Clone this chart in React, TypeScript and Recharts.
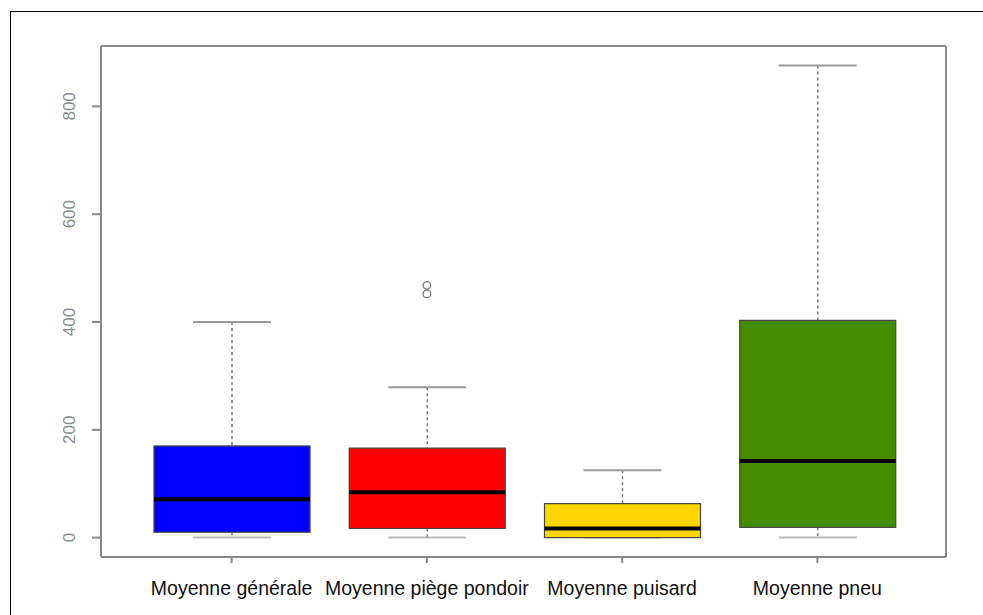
import React from 'react';
import { ComposedChart, Bar, Scatter, XAxis, YAxis, CartesianGrid } from 'recharts';

const categories = ['Moyenne générale', 'Moyenne piège pondoir', 'Moyenne puisard', 'Moyenne pneu'];
const whiskerLow = [0, 0, 0, 0];
const q1 = [10, 17, 0, 19];
const medians = [71, 84, 17, 142];
const q3 = [170, 166, 63, 403];
const whiskerHigh = [400, 279, 125, 876];
const boxColors = ['#0000FF', '#FF0000', '#FFD700', '#458B00'];
const outlierValues = [[], [468, 452], [], []];
const yTicks = [0, 200, 400, 600, 800];

const data = categories.map((name, i) => ({
  name,
  low: whiskerLow[i],
  q1: q1[i],
  median: medians[i],
  q3: q3[i],
  high: whiskerHigh[i],
  color: boxColors[i],
}));

const outliers = categories.flatMap((name, i) => outlierValues[i].map((value) => ({ name, value })));

const BoxShape = (props: any) => {
  const { x, y, width, height, payload } = props;
  const top = Math.min(y, y + height);
  const bottom = Math.max(y, y + height);
  const span = payload.high - payload.low;
  // map a value onto the pixel range the bar got for [low, high]
  const py = (v: number) => top + ((payload.high - v) / span) * (bottom - top);
  const cx = x + width / 2;
  const capHalf = width / 4;
  return (
    <g>
      <line x1={cx} x2={cx} y1={py(payload.high)} y2={py(payload.q3)} stroke="#777" strokeWidth={1.5} strokeDasharray="3 3" />
      <line x1={cx} x2={cx} y1={py(payload.q1)} y2={py(payload.low)} stroke="#777" strokeWidth={1.5} strokeDasharray="3 3" />
      <line x1={cx - capHalf} x2={cx + capHalf} y1={py(payload.high)} y2={py(payload.high)} stroke="#999" strokeWidth={2} />
      <line x1={cx - capHalf} x2={cx + capHalf} y1={py(payload.low)} y2={py(payload.low)} stroke="#bbb" strokeWidth={2} />
      <rect
        x={x}
        y={py(payload.q3)}
        width={width}
        height={py(payload.q1) - py(payload.q3)}
        fill={payload.color}
        stroke="#444"
        strokeWidth={1.2}
      />
      <line x1={x} x2={x + width} y1={py(payload.median)} y2={py(payload.median)} stroke="#000" strokeWidth={4} />
    </g>
  );
};

const OutlierShape = (props: any) => {
  const { cx, cy } = props;
  return <circle cx={cx} cy={cy} r={3.8} fill="none" stroke="#777" strokeWidth={1.3} />;
};

const YTick = (props: any) => {
  const { x, y, payload } = props;
  return (
    <text
      x={x}
      y={y}
      transform={`rotate(-90 ${x} ${y})`}
      textAnchor="middle"
      fill="#8a8a8a"
      fontSize={17}
      fontFamily="Liberation Sans, Arial, sans-serif"
    >
      {payload.value}
    </text>
  );
};

export default function App() {
  return (
    <div style={{ position: 'absolute', left: 0, top: 0, width: 983, height: 615, background: '#fff' }}>
      <div
        style={{
          position: 'absolute',
          left: 10,
          top: 11,
          width: 973,
          height: 604,
          borderTop: '1.5px solid #000',
          borderLeft: '1.5px solid #000',
          boxSizing: 'border-box',
        }}
      />
      <ComposedChart
        width={983}
        height={615}
        data={data}
        margin={{ top: 46, right: 37, left: 0, bottom: 0 }}
        style={{ position: 'absolute', left: 0, top: 0 }}
      >
        {/* plot frame: lines on the four edges of the plot area */}
        <CartesianGrid
          stroke="#888"
          strokeWidth={2}
          horizontalCoordinatesGenerator={({ offset }: any) => [offset.top, offset.top + offset.height]}
          verticalCoordinatesGenerator={({ offset }: any) => [offset.left, offset.left + offset.width]}
        />
        <XAxis
          dataKey="name"
          allowDuplicatedCategory={false}
          padding={{ left: 33, right: 31 }}
          height={58}
          stroke="#888"
          strokeWidth={2}
          tickSize={6}
          tickMargin={18}
          tick={{ fill: '#111', fontSize: 19.5, fontFamily: 'Liberation Sans, Arial, sans-serif' }}
          interval={0}
        />
        <YAxis
          domain={[-36, 912]}
          ticks={yTicks}
          width={101}
          stroke="#888"
          strokeWidth={2}
          tickSize={9}
          tickMargin={17}
          tick={<YTick />}
          allowDataOverflow
        />
        <Bar dataKey={(d: any) => [d.low, d.high]} barSize={156} shape={<BoxShape />} isAnimationActive={false} />
        <Scatter data={outliers} dataKey="value" shape={<OutlierShape />} isAnimationActive={false} />
      </ComposedChart>
    </div>
  );
}
